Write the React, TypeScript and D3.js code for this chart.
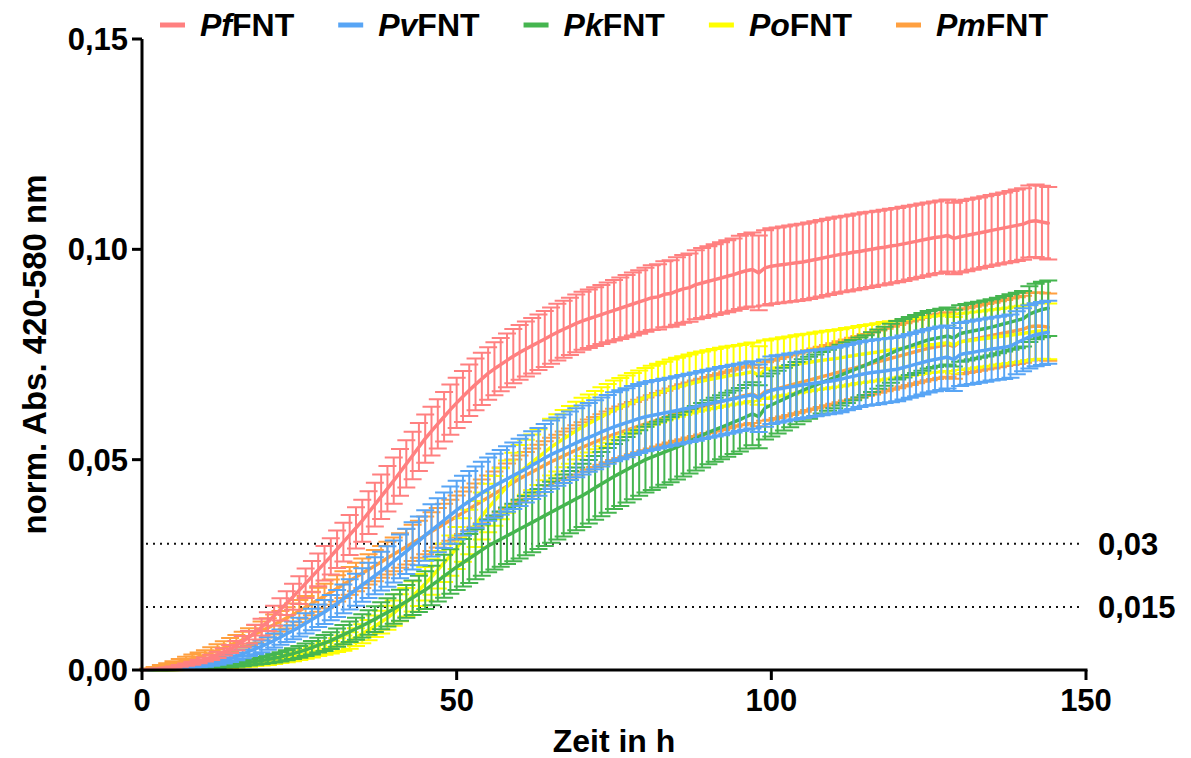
import React from "react";
import * as d3 from "d3";

// time points (h), one measurement per hour
const hours: number[] = d3.range(0, 145);

// means in units of 0.001 (norm. Abs.)
const pfMean = [
  0, 0.1, 0.2, 0.3, 0.5, 0.7, 1.0, 1.3, 1.6, 2.0,
  2.5, 3.0, 3.6, 4.3, 5.0, 5.8, 6.8, 7.8, 9.0, 10.2,
  11.5, 12.9, 14.4, 15.9, 17.4, 19.0, 20.6, 22.2, 23.8, 25.4,
  27.0, 28.7, 30.4, 32.1, 33.8, 35.5, 37.4, 39.3, 41.2, 43.1,
  45.0, 47.0, 49.0, 51.0, 53.0, 55.0, 56.8, 58.5, 60.2, 61.9,
  63.5, 65.0, 66.5, 67.9, 69.2, 70.5, 71.6, 72.6, 73.6, 74.6,
  75.5, 76.3, 77.1, 77.9, 78.7, 79.5, 80.3, 81.0, 81.7, 82.4,
  83.0, 83.5, 84.0, 84.5, 85.0, 85.5, 86.0, 86.5, 87.0, 87.5,
  88.0, 88.5, 88.7, 89.3, 89.5, 90.1, 90.6, 90.9, 91.6, 92.0,
  92.4, 92.8, 93.2, 93.6, 94.0, 94.5, 94.9, 95.2, 94.4, 95.6,
  96.0, 96.2, 96.4, 96.6, 96.8, 97.0, 97.3, 97.6, 97.9, 98.2,
  98.5, 98.8, 99.0, 99.3, 99.5, 99.8, 100.0, 100.3, 100.5, 100.8,
  101.0, 101.3, 101.6, 101.9, 102.2, 102.5, 102.8, 103.0, 103.3, 102.6,
  103.0, 103.3, 103.6, 103.9, 104.2, 104.5, 104.8, 105.1, 105.4, 105.7,
  106.0, 106.6, 106.8, 106.5, 106.2,
];
const pfSd = [
  0, 0.02, 0.05, 0.08, 0.12, 0.15, 0.2, 0.27, 0.34, 0.42,
  0.5, 0.6, 0.72, 0.85, 0.97, 1.1, 1.3, 1.5, 1.75, 2.0,
  2.2, 2.4, 2.65, 2.85, 3.1, 3.3, 3.5, 3.7, 3.9, 4.1,
  4.3, 4.45, 4.6, 4.75, 4.9, 5.0, 5.1, 5.2, 5.3, 5.4,
  5.5, 5.55, 5.6, 5.65, 5.7, 5.75, 5.8, 5.85, 5.9, 5.95,
  6.0, 6.05, 6.1, 6.15, 6.2, 6.25, 6.3, 6.35, 6.4, 6.45,
  6.5, 6.55, 6.6, 6.6, 6.65, 6.7, 6.75, 6.8, 6.8, 6.85,
  6.9, 6.95, 7.0, 7.0, 7.1, 7.2, 7.3, 7.4, 7.5, 7.55,
  7.6, 7.7, 7.75, 7.85, 7.9, 8.0, 8.05, 8.1, 8.2, 8.3,
  8.35, 8.4, 8.5, 8.55, 8.6, 8.7, 8.75, 8.8, 8.9, 8.95,
  9.0, 9.0, 9.05, 9.05, 9.1, 9.1, 9.1, 9.1, 9.1, 9.05,
  9.05, 9.0, 9.0, 9.0, 9.0, 9.0, 8.95, 8.9, 8.9, 8.85,
  8.8, 8.8, 8.75, 8.7, 8.7, 8.65, 8.6, 8.6, 8.55, 8.5,
  8.5, 8.5, 8.45, 8.45, 8.4, 8.4, 8.4, 8.4, 8.45, 8.5,
  8.5, 8.55, 8.6, 8.6, 8.6,
];

const pvMean = [
  0, 0.05, 0.1, 0.15, 0.2, 0.3, 0.4, 0.55, 0.75, 0.95,
  1.2, 1.5, 1.85, 2.25, 2.7, 3.2, 3.8, 4.4, 5.0, 5.6,
  6.3, 7.0, 7.8, 8.6, 9.4, 10.2, 11.1, 12.0, 12.9, 13.8,
  14.8, 15.8, 16.9, 18.0, 19.1, 20.2, 21.3, 22.4, 23.5, 24.6,
  25.8, 27.0, 28.2, 29.5, 30.7, 32.0, 33.2, 34.4, 35.6, 36.8,
  38.0, 39.1, 40.1, 41.1, 42.1, 43.0, 43.8, 44.6, 45.4, 46.2,
  47.0, 47.8, 48.7, 49.5, 50.4, 51.2, 51.9, 52.6, 53.3, 54.0,
  54.7, 55.3, 55.9, 56.6, 57.2, 57.8, 58.3, 58.8, 59.3, 59.8,
  60.2, 60.5, 60.8, 61.1, 61.4, 61.7, 62.0, 62.3, 62.6, 63.0,
  63.3, 63.6, 63.9, 64.2, 64.5, 64.8, 65.1, 65.4, 64.6, 65.8,
  66.5, 66.8, 67.0, 67.3, 67.5, 67.8, 68.0, 68.2, 68.4, 68.6,
  68.8, 69.1, 69.5, 69.8, 70.2, 70.5, 70.7, 70.9, 71.1, 71.3,
  71.5, 71.9, 72.3, 72.7, 73.1, 73.5, 73.8, 74.1, 74.4, 73.8,
  75.0, 75.3, 75.5, 75.8, 76.0, 76.3, 76.5, 76.7, 77.0, 77.8,
  78.5, 79.2, 79.7, 80.0, 80.3,
];
const pvSd = [
  0, 0.02, 0.04, 0.06, 0.08, 0.1, 0.14, 0.18, 0.24, 0.3,
  0.4, 0.5, 0.6, 0.7, 0.8, 0.9, 1.0, 1.1, 1.25, 1.4,
  1.5, 1.65, 1.8, 1.95, 2.1, 2.25, 2.4, 2.55, 2.7, 2.85,
  3.0, 3.2, 3.4, 3.6, 3.8, 4.0, 4.2, 4.4, 4.6, 4.8,
  5.0, 5.2, 5.4, 5.6, 5.8, 6.0, 6.2, 6.4, 6.6, 6.8,
  7.0, 7.1, 7.2, 7.3, 7.4, 7.5, 7.6, 7.7, 7.8, 7.9,
  8.0, 8.0, 8.05, 8.05, 8.1, 8.1, 8.1, 8.15, 8.15, 8.2,
  8.2, 8.2, 8.2, 8.2, 8.2, 8.2, 8.2, 8.2, 8.2, 8.2,
  8.2, 8.2, 8.15, 8.15, 8.1, 8.1, 8.1, 8.1, 8.1, 8.1,
  8.1, 8.1, 8.1, 8.05, 8.05, 8.0, 8.0, 8.0, 8.0, 8.0,
  8.0, 8.0, 7.95, 7.95, 7.9, 7.9, 7.9, 7.85, 7.85, 7.8,
  7.8, 7.8, 7.75, 7.75, 7.7, 7.7, 7.7, 7.7, 7.65, 7.65,
  7.6, 7.6, 7.6, 7.6, 7.6, 7.55, 7.55, 7.55, 7.5, 7.5,
  7.5, 7.5, 7.5, 7.5, 7.5, 7.5, 7.5, 7.5, 7.5, 7.5,
  7.5, 7.5, 7.5, 7.5, 7.5,
];

const pkMean = [
  0, 0.02, 0.04, 0.06, 0.08, 0.1, 0.15, 0.22, 0.3, 0.4,
  0.5, 0.65, 0.8, 0.95, 1.1, 1.3, 1.5, 1.75, 2.0, 2.25,
  2.5, 2.8, 3.1, 3.5, 3.9, 4.3, 4.8, 5.3, 5.9, 6.4,
  7.0, 7.7, 8.4, 9.1, 9.8, 10.5, 11.3, 12.1, 12.9, 13.7,
  14.5, 15.4, 16.3, 17.2, 18.1, 19.0, 20.1, 21.2, 22.3, 23.4,
  24.5, 25.5, 26.5, 27.5, 28.5, 29.5, 30.3, 31.1, 31.9, 32.7,
  33.5, 34.3, 35.1, 35.9, 36.7, 37.5, 38.3, 39.1, 39.9, 40.7,
  41.5, 42.4, 43.3, 44.2, 45.1, 46.0, 46.8, 47.6, 48.4, 49.2,
  50.0, 50.6, 51.2, 51.8, 52.4, 53.0, 53.7, 54.4, 55.1, 55.8,
  56.5, 57.1, 57.7, 58.3, 58.9, 59.5, 60.2, 60.9, 60.2, 62.3,
  63.0, 63.7, 64.4, 65.1, 65.8, 66.5, 67.1, 67.7, 68.3, 68.9,
  69.5, 70.1, 70.7, 71.3, 71.9, 72.5, 73.2, 73.9, 74.6, 75.3,
  76.0, 76.5, 77.0, 77.5, 78.0, 78.5, 78.8, 79.1, 79.4, 78.9,
  80.0, 80.3, 80.6, 80.9, 81.2, 81.5, 81.9, 82.3, 82.7, 83.1,
  83.5, 84.6, 85.2, 85.7, 86.0,
];
const pkSd = [
  0, 0.01, 0.02, 0.03, 0.05, 0.07, 0.09, 0.12, 0.15, 0.18,
  0.2, 0.25, 0.3, 0.36, 0.42, 0.5, 0.58, 0.66, 0.74, 0.82,
  0.9, 1.0, 1.1, 1.2, 1.3, 1.4, 1.5, 1.6, 1.75, 1.9,
  2.0, 2.15, 2.3, 2.45, 2.6, 2.75, 2.9, 3.05, 3.2, 3.35,
  3.5, 3.7, 3.9, 4.1, 4.3, 4.5, 4.7, 4.9, 5.1, 5.3,
  5.5, 5.65, 5.8, 5.95, 6.1, 6.25, 6.4, 6.55, 6.7, 6.85,
  7.0, 7.05, 7.1, 7.15, 7.2, 7.25, 7.3, 7.35, 7.4, 7.45,
  7.5, 7.55, 7.6, 7.65, 7.7, 7.75, 7.8, 7.8, 7.8, 7.8,
  7.8, 7.8, 7.8, 7.75, 7.75, 7.7, 7.7, 7.7, 7.65, 7.65,
  7.6, 7.6, 7.6, 7.6, 7.55, 7.55, 7.55, 7.5, 7.5, 7.5,
  7.5, 7.45, 7.45, 7.4, 7.4, 7.35, 7.35, 7.3, 7.3, 7.25,
  7.25, 7.2, 7.2, 7.15, 7.15, 7.1, 7.1, 7.05, 7.0, 7.0,
  6.95, 6.95, 6.9, 6.9, 6.85, 6.85, 6.8, 6.8, 6.75, 6.75,
  6.7, 6.7, 6.7, 6.65, 6.65, 6.65, 6.6, 6.6, 6.6, 6.6,
  6.6, 6.6, 6.6, 6.6, 6.6,
];

const poMean = [
  0, 0.01, 0.02, 0.04, 0.06, 0.08, 0.11, 0.15, 0.19, 0.24,
  0.3, 0.4, 0.5, 0.62, 0.75, 0.9, 1.05, 1.2, 1.4, 1.6,
  1.8, 2.1, 2.4, 2.7, 3.0, 3.4, 3.8, 4.2, 4.6, 5.0,
  5.4, 5.9, 6.4, 7.0, 7.8, 8.6, 9.5, 10.4, 11.4, 12.4,
  13.5, 14.8, 16.1, 17.5, 19.0, 20.5, 22.1, 23.8, 25.5, 27.2,
  29.0, 30.9, 32.8, 34.7, 36.6, 38.5, 40.2, 41.9, 43.6, 45.3,
  47.0, 48.2, 49.4, 50.6, 51.8, 53.0, 54.0, 55.0, 55.9, 56.9,
  57.8, 58.6, 59.4, 60.2, 61.0, 61.8, 62.4, 63.0, 63.6, 64.2,
  64.8, 65.3, 65.8, 66.3, 66.8, 67.2, 67.6, 68.0, 68.4, 68.7,
  69.0, 69.3, 69.6, 69.9, 70.1, 70.3, 70.6, 70.9, 70.0, 71.4,
  71.7, 71.9, 72.2, 72.4, 72.7, 72.9, 73.1, 73.4, 73.6, 73.8,
  74.0, 74.2, 74.5, 74.7, 75.0, 75.2, 75.4, 75.6, 75.9, 76.1,
  76.3, 76.5, 76.7, 76.9, 77.1, 77.3, 77.4, 77.6, 77.8, 77.2,
  78.0, 78.2, 78.4, 78.6, 78.8, 79.0, 79.2, 79.4, 79.6, 79.8,
  80.0, 80.3, 80.5, 80.6, 80.5,
];
const poSd = [
  0, 0.01, 0.01, 0.02, 0.03, 0.04, 0.05, 0.06, 0.08, 0.1,
  0.12, 0.15, 0.18, 0.22, 0.26, 0.3, 0.35, 0.4, 0.47, 0.54,
  0.6, 0.68, 0.76, 0.84, 0.92, 1.0, 1.1, 1.2, 1.3, 1.4,
  1.5, 1.65, 1.8, 1.95, 2.1, 2.25, 2.4, 2.55, 2.7, 2.85,
  3.0, 3.2, 3.4, 3.6, 3.8, 4.0, 4.2, 4.4, 4.6, 4.8,
  5.0, 5.15, 5.3, 5.45, 5.6, 5.75, 5.9, 6.05, 6.2, 6.35,
  6.5, 6.55, 6.6, 6.65, 6.7, 6.75, 6.8, 6.8, 6.85, 6.85,
  6.9, 6.9, 6.95, 7.0, 7.0, 7.0, 7.0, 7.0, 7.0, 7.0,
  7.0, 7.0, 7.0, 7.0, 7.0, 7.0, 7.0, 7.0, 7.0, 7.0,
  7.0, 7.0, 7.0, 7.0, 7.0, 6.95, 6.95, 6.95, 6.95, 6.95,
  6.9, 6.9, 6.9, 6.9, 6.9, 6.9, 6.85, 6.85, 6.85, 6.85,
  6.8, 6.8, 6.8, 6.8, 6.8, 6.8, 6.8, 6.8, 6.8, 6.8,
  6.75, 6.75, 6.75, 6.75, 6.75, 6.7, 6.7, 6.7, 6.7, 6.7,
  6.7, 6.7, 6.65, 6.65, 6.65, 6.65, 6.6, 6.6, 6.6, 6.6,
  6.6, 6.6, 6.6, 6.6, 6.6,
];

const pmMean = [
  0, 0.25, 0.5, 0.8, 1.1, 1.5, 1.9, 2.3, 2.7, 3.1,
  3.5, 4.1, 4.7, 5.3, 5.9, 6.5, 7.2, 7.9, 8.6, 9.3,
  10.0, 10.8, 11.6, 12.4, 13.2, 14.0, 14.9, 15.8, 16.7, 17.6,
  18.5, 19.4, 20.3, 21.2, 22.1, 23.0, 23.9, 24.8, 25.7, 26.6,
  27.5, 28.4, 29.3, 30.2, 31.1, 32.0, 32.9, 33.8, 34.7, 35.6,
  36.5, 37.4, 38.3, 39.2, 40.1, 41.0, 41.9, 42.8, 43.7, 44.6,
  45.5, 46.3, 47.1, 47.9, 48.7, 49.5, 50.2, 50.9, 51.6, 52.3,
  53.0, 53.6, 54.2, 54.8, 55.4, 56.0, 56.5, 57.0, 57.5, 58.0,
  58.5, 59.0, 59.5, 60.0, 60.5, 61.0, 61.4, 61.8, 62.2, 62.6,
  63.0, 63.4, 63.8, 64.2, 64.6, 65.0, 65.3, 65.6, 64.9, 66.2,
  66.5, 66.9, 67.3, 67.7, 68.1, 68.5, 68.9, 69.3, 69.7, 70.1,
  70.5, 70.9, 71.3, 71.7, 72.1, 72.5, 72.9, 73.3, 73.7, 74.1,
  74.5, 74.9, 75.3, 75.7, 76.1, 76.5, 76.8, 77.1, 77.4, 76.9,
  78.0, 78.3, 78.6, 78.9, 79.2, 79.5, 79.8, 80.1, 80.4, 80.7,
  81.0, 81.6, 81.8, 81.7, 81.5,
];
const pmSd = [
  0, 0.12, 0.24, 0.36, 0.48, 0.6, 0.72, 0.84, 0.96, 1.08,
  1.2, 1.32, 1.44, 1.56, 1.68, 1.8, 1.9, 2.0, 2.1, 2.2,
  2.3, 2.37, 2.44, 2.51, 2.58, 2.65, 2.72, 2.79, 2.86, 2.93,
  3.0, 3.1, 3.2, 3.3, 3.4, 3.5, 3.6, 3.7, 3.8, 3.9,
  4.0, 4.1, 4.2, 4.3, 4.4, 4.5, 4.6, 4.7, 4.8, 4.9,
  5.0, 5.05, 5.1, 5.15, 5.2, 5.25, 5.3, 5.35, 5.4, 5.45,
  5.5, 5.54, 5.58, 5.62, 5.66, 5.7, 5.74, 5.78, 5.82, 5.86,
  5.9, 5.94, 5.97, 6.0, 6.04, 6.08, 6.12, 6.16, 6.2, 6.24,
  6.28, 6.32, 6.36, 6.4, 6.44, 6.48, 6.52, 6.56, 6.6, 6.63,
  6.66, 6.7, 6.74, 6.77, 6.8, 6.84, 6.87, 6.9, 6.94, 6.97,
  7.0, 7.02, 7.04, 7.06, 7.08, 7.1, 7.12, 7.14, 7.16, 7.18,
  7.2, 7.23, 7.26, 7.29, 7.32, 7.35, 7.38, 7.41, 7.44, 7.47,
  7.5, 7.52, 7.54, 7.56, 7.58, 7.6, 7.62, 7.64, 7.66, 7.68,
  7.7, 7.72, 7.74, 7.76, 7.78, 7.8, 7.83, 7.86, 7.9, 7.93,
  7.96, 8.0, 8.0, 8.0, 8.0,
];

const seriesPrefix = ["Pf", "Pv", "Pk", "Po", "Pm"];
const seriesSuffix = "FNT";
const seriesColors = ["#FF8080", "#58A5F5", "#45B54F", "#FFFF00", "#FFA040"];
const seriesMeans = [pfMean, pvMean, pkMean, poMean, pmMean];
const seriesSds = [pfSd, pvSd, pkSd, poSd, pmSd];

const yTicks = [0, 0.05, 0.1, 0.15];
const xTicks = [0, 50, 100, 150];
const thresholds = [0.03, 0.015];
const thresholdLabels = ["0,03", "0,015"];
const yTitle = "norm. Abs. 420-580 nm";
const xTitle = "Zeit in h";

const W = 1191;
const H = 758;
const FONT = "'Liberation Sans', Arial, Helvetica, sans-serif";

function measure(text: string, font: string): number {
  const c = document.createElement("canvas");
  const ctx = c.getContext("2d");
  if (!ctx) return text.length * 18;
  ctx.font = font;
  return ctx.measureText(text).width;
}

export default function App() {
  const left = 142;
  const right = 1086;
  const top = 39;
  const bottom = 670;
  const x = d3.scaleLinear().domain([0, 150]).range([left, right]);
  const y = d3.scaleLinear().domain([0, 0.15]).range([bottom, top]);
  const capHalf = 9;

  const line = d3
    .line<number>()
    .x((_, i) => x(hours[i]))
    .y((v) => y(v / 1000));

  const fmt = (v: number) => d3.format(".2f")(v).replace(".", ",");

  const drawOrder = [4, 3, 2, 1, 0];

  // legend layout
  const legFont = 32;
  const legY = 36;
  const legItems: { mx: number; tx: number }[] = [];
  let cursor = 160;
  seriesPrefix.forEach((p) => {
    const wP = measure(p, `italic bold ${legFont}px ${FONT}`);
    const wS = measure(seriesSuffix, `bold ${legFont}px ${FONT}`);
    legItems.push({ mx: cursor, tx: cursor + 40 });
    cursor = cursor + 40 + wP + wS + 44;
  });

  return (
    <div style={{ position: "absolute", left: 0, top: 0 }}>
      <svg width={W} height={H} style={{ display: "block", background: "#fff" }} fontFamily={FONT}>
        {/* threshold dotted lines */}
        {thresholds.map((t, i) => (
          <g key={"th" + i}>
            <line
              x1={left + 4}
              x2={1084}
              y1={y(t)}
              y2={y(t)}
              stroke="#111"
              strokeWidth={2}
              strokeDasharray="2 5"
            />
            <text x={1098} y={y(t)} dy="0.36em" fontSize={31} fontWeight="bold" fill="#000">
              {thresholdLabels[i]}
            </text>
          </g>
        ))}

        {/* series */}
        {drawOrder.map((si) => {
          const m = seriesMeans[si];
          const s = seriesSds[si];
          let d = "";
          m.forEach((v, i) => {
            const sd = s[i];
            if (sd <= 0) return;
            const cx = x(hours[i]);
            const y1 = y((v + sd) / 1000);
            const y2 = y((v - sd) / 1000);
            d += `M${cx},${y1}V${y2}`;
            d += `M${cx - capHalf},${y1}H${cx + capHalf}`;
            d += `M${cx - capHalf},${y2}H${cx + capHalf}`;
          });
          return (
            <g key={"s" + si}>
              <path d={d} fill="none" stroke={seriesColors[si]} strokeWidth={2} />
              <path
                d={line(m) || ""}
                fill="none"
                stroke={seriesColors[si]}
                strokeWidth={3.5}
                strokeLinejoin="round"
                strokeLinecap="round"
              />
            </g>
          );
        })}

        {/* axes */}
        <line x1={left} x2={left} y1={top} y2={bottom + 1.5} stroke="#000" strokeWidth={3} />
        <line x1={left - 1.5} x2={right + 1.5} y1={bottom} y2={bottom} stroke="#000" strokeWidth={3} />
        {yTicks.map((t) => (
          <g key={"yt" + t}>
            <line x1={left - 10} x2={left} y1={y(t)} y2={y(t)} stroke="#000" strokeWidth={3} />
            <text
              x={left - 14}
              y={y(t)}
              dy="0.36em"
              textAnchor="end"
              fontSize={31}
              fontWeight="bold"
              fill="#000"
            >
              {fmt(t)}
            </text>
          </g>
        ))}
        {xTicks.map((t) => (
          <g key={"xt" + t}>
            <line x1={x(t)} x2={x(t)} y1={bottom} y2={bottom + 10} stroke="#000" strokeWidth={3} />
            <text x={x(t)} y={711} textAnchor="middle" fontSize={31} fontWeight="bold" fill="#000">
              {t}
            </text>
          </g>
        ))}

        {/* axis titles */}
        <text
          transform={`translate(46, ${(top + bottom) / 2}) rotate(-90)`}
          textAnchor="middle"
          fontSize={33}
          fontWeight="bold"
          fill="#000"
        >
          {yTitle}
        </text>
        <text x={(left + right) / 2} y={752} textAnchor="middle" fontSize={32} fontWeight="bold" fill="#000">
          {xTitle}
        </text>

        {/* legend */}
        {seriesPrefix.map((p, i) => (
          <g key={"lg" + i}>
            <line
              x1={legItems[i].mx}
              x2={legItems[i].mx + 25}
              y1={legY - 11}
              y2={legY - 11}
              stroke={seriesColors[i]}
              strokeWidth={5}
            />
            <text x={legItems[i].tx} y={legY} fontSize={legFont} fontWeight="bold" fill="#000">
              <tspan fontStyle="italic">{p}</tspan>
              <tspan>{seriesSuffix}</tspan>
            </text>
          </g>
        ))}
      </svg>
    </div>
  );
}
